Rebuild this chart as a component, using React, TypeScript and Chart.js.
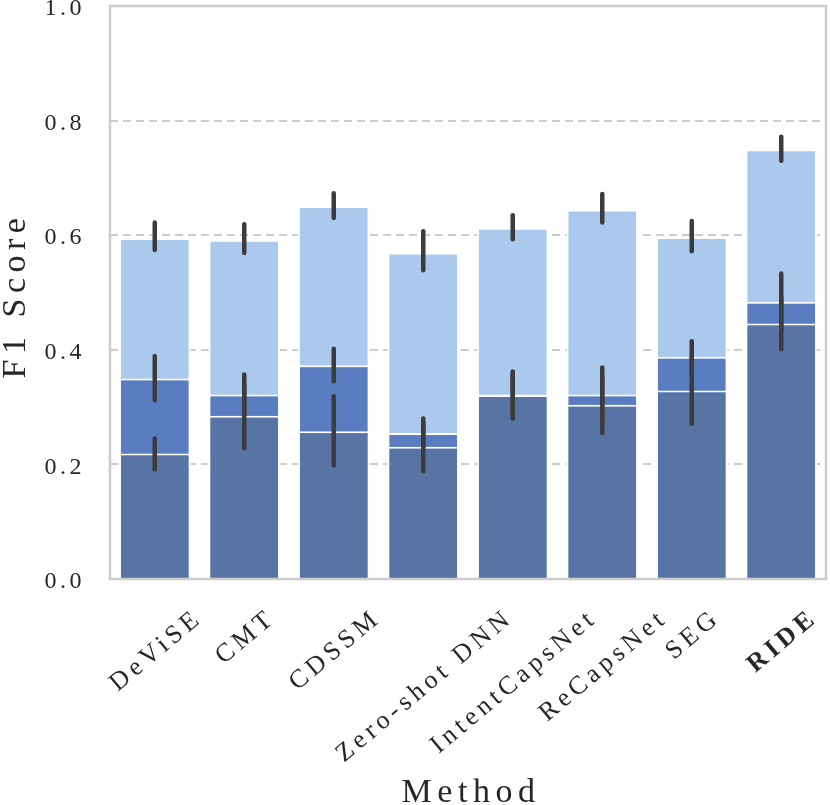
import React, { useEffect, useRef } from 'react';
import { Chart, registerables } from 'chart.js';

Chart.register(...registerables);

const methods = ['DeViSE', 'CMT', 'CDSSM', 'Zero-shot DNN', 'IntentCapsNet', 'ReCapsNet', 'SEG', 'RIDE'];
const highlightMethod = 'RIDE';

// light (top layer)
const highScores = [0.595, 0.592, 0.651, 0.570, 0.613, 0.645, 0.597, 0.750];
const highErrLow = [0.574, 0.569, 0.630, 0.539, 0.593, 0.622, 0.572, 0.730];
const highErrHigh = [0.622, 0.619, 0.673, 0.607, 0.635, 0.672, 0.625, 0.772];
// medium layer
const midScores = [0.350, 0.322, 0.373, 0.255, 0.322, 0.322, 0.388, 0.484];
const midErrLow = [0.312, 0.287, 0.345, 0.230, 0.282, 0.275, 0.360, 0.433];
const midErrHigh = [0.389, 0.357, 0.402, 0.280, 0.362, 0.369, 0.415, 0.533];
// dark layer
const lowScores = [0.219, 0.285, 0.258, 0.231, 0.321, 0.304, 0.329, 0.446];
const lowErrLow = [0.191, 0.228, 0.198, 0.188, 0.280, 0.255, 0.271, 0.401];
const lowErrHigh = [0.245, 0.340, 0.319, 0.274, 0.360, 0.353, 0.387, 0.491];

const yTicks = [0.0, 0.2, 0.4, 0.6, 0.8, 1.0];

const FONT = "'Liberation Serif', 'DejaVu Serif', serif";
const TEXT = '#262626';

const overlay = {
  id: 'overlay',
  beforeDraw(chart: any) {
    chart.ctx.letterSpacing = '3.5px';
  },
  afterDatasetsDraw(chart: any) {
    const ctx = chart.ctx;
    const xs = chart.scales.x;
    const ys = chart.scales.y;
    const sets = [
      [highErrLow, highErrHigh],
      [midErrLow, midErrHigh],
      [lowErrLow, lowErrHigh],
    ];
    ctx.save();
    ctx.strokeStyle = '#3c3c3c';
    ctx.lineWidth = 4.5;
    ctx.lineCap = 'round';
    sets.forEach(([lo, hi]) => {
      methods.forEach((_, i) => {
        const px = xs.getPixelForValue(i);
        ctx.beginPath();
        ctx.moveTo(px, ys.getPixelForValue(lo[i]));
        ctx.lineTo(px, ys.getPixelForValue(hi[i]));
        ctx.stroke();
      });
    });
    ctx.restore();
  },
  afterDraw(chart: any) {
    const ctx = chart.ctx;
    const { left, right, top, bottom } = chart.chartArea;
    const xs = chart.scales.x;
    ctx.save();
    ctx.strokeStyle = '#cccccc';
    ctx.lineWidth = 2.5;
    ctx.strokeRect(left, top, right - left, bottom - top);
    ctx.restore();

    // rotated, centered category labels
    const a = (40 * Math.PI) / 180;
    methods.forEach((m, i) => {
      ctx.save();
      ctx.letterSpacing = '4.5px';
      ctx.fillStyle = TEXT;
      ctx.font = `${m === highlightMethod ? 'bold ' : ''}26px ${FONT}`;
      const w = ctx.measureText(m).width;
      const h = 26;
      const bh = w * Math.sin(a) + h * Math.cos(a);
      const cx = xs.getPixelForValue(i);
      const cy = bottom + 27 + bh / 2;
      ctx.translate(cx, cy);
      ctx.rotate(-a);
      ctx.textAlign = 'center';
      ctx.textBaseline = 'middle';
      ctx.fillText(m, 2, 0);
      ctx.restore();
    });

    // axis titles
    ctx.save();
    ctx.letterSpacing = '5.5px';
    ctx.fillStyle = TEXT;
    ctx.font = `34px ${FONT}`;
    ctx.textAlign = 'center';
    ctx.textBaseline = 'alphabetic';
    ctx.fillText('Method', (left + right) / 2 + 3, 802);
    ctx.translate(25, (top + bottom) / 2 + 3);
    ctx.rotate(-Math.PI / 2);
    ctx.fillText('F1 Score', 0, 0);
    ctx.restore();
  },
};

export default function App() {
  const ref = useRef<HTMLCanvasElement | null>(null);
  useEffect(() => {
    document.body.style.margin = '0';
    if (!ref.current) return;
    const common = {
      borderColor: '#ffffff',
      borderWidth: 2,
      grouped: false,
      categoryPercentage: 0.8,
      barPercentage: 1.0,
    };
    const chart = new Chart(ref.current, {
      type: 'bar',
      data: {
        labels: methods,
        datasets: [
          { ...common, label: 'low', data: lowScores, backgroundColor: '#5874a4' },
          { ...common, label: 'mid', data: midScores, backgroundColor: '#5a7cc0' },
          { ...common, label: 'high', data: highScores, backgroundColor: '#abc9ec' },
        ],
      } as any,
      options: {
        animation: false,
        responsive: true,
        maintainAspectRatio: false,
        events: [],
        layout: { padding: { top: 6, right: 4, left: 0, bottom: 0 } },
        plugins: { legend: { display: false }, tooltip: { enabled: false } },
        scales: {
          x: {
            type: 'category',
            grid: { display: false },
            border: { display: false },
            ticks: { display: false },
            afterFit: (s: any) => {
              s.height = 805 - 579;
              s.paddingLeft = 0;
              s.paddingRight = 0;
            },
          },
          y: {
            min: 0,
            max: 1,
            afterBuildTicks: (s: any) => {
              s.ticks = yTicks.map((v) => ({ value: v }));
            },
            afterFit: (s: any) => {
              s.width = 110;
              s.paddingTop = 0;
              s.paddingBottom = 0;
            },
            grid: {
              color: '#cccccc',
              lineWidth: 2,
              drawTicks: false,
              tickLength: 0,
            },
            border: { display: false, dash: [8, 5] },
            ticks: {
              padding: 25,
              labelOffset: 3,
              color: TEXT,
              font: { family: FONT, size: 24 },
              callback: (v: any) => Number(v).toFixed(1),
            },
          },
        },
      } as any,
      plugins: [overlay],
    });
    return () => chart.destroy();
  }, []);
  return (
    <div style={{ width: 830, height: 805, position: 'relative' }}>
      <canvas ref={ref} />
    </div>
  );
}
